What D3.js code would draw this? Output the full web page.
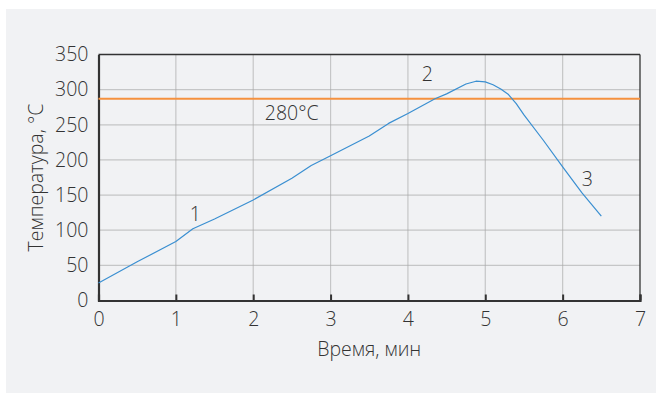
<!DOCTYPE html>
<html>
<head>
<meta charset="utf-8">
<script src="https://cdn.jsdelivr.net/npm/d3@7"></script>
<style>
  body { margin: 0; background: #fff; }
  svg { display: block; font-family: "Open Sans", sans-serif; font-weight: 300; }
</style>
</head>
<body>
<svg id="chart"></svg>
<script>
// Temperature curve (time in min, temperature in °C)
const times = [0, 0.5, 1, 1.22, 1.5, 2, 2.5, 2.75, 3, 3.5, 3.75, 4, 4.35, 4.5, 4.75, 4.88, 5, 5.1, 5.2, 5.3, 5.4, 5.5, 5.75, 6, 6.25, 6.5];
const temps = [25, 55, 84, 102, 116, 143, 174, 192, 206, 234, 252, 266, 287, 294, 308, 312, 311, 307, 301, 293, 280, 264, 228, 190, 153, 120];
const limitTemp = 287;
const limitLabel = "280°C";
const xTicks = [0, 1, 2, 3, 4, 5, 6, 7];
const yTicks = [0, 50, 100, 150, 200, 250, 300, 350];
const stageLabels = ["1", "2", "3"];
const stageAt = [[1.25, 113], [4.25, 312], [6.32, 163]];

const W = 657, H = 393;
const margin = { top: 54.5, right: 17, bottom: 92.5, left: 98.5 };
const width = W - margin.left - margin.right;
const height = H - margin.top - margin.bottom;
const fs = 19.5;
const textColor = "#333";

const root = d3.select("#chart").attr("width", W).attr("height", H);

// panel background
root.append("rect")
  .attr("x", 6).attr("y", 9)
  .attr("width", 650).attr("height", 384)
  .attr("fill", "#f1f2f4");

const svg = root.append("g")
  .attr("transform", "translate(" + margin.left + "," + margin.top + ")");

const x = d3.scaleLinear().domain([0, 7]).range([0, width]);
const y = d3.scaleLinear().domain([0, 350]).range([height, 0]);

// grid
svg.append("g")
  .selectAll("line")
  .data(xTicks.slice(1, -1))
  .enter()
  .append("line")
  .attr("x1", d => x(d)).attr("x2", d => x(d))
  .attr("y1", 0).attr("y2", height)
  .attr("stroke", "#a8a8a8").attr("stroke-opacity", 0.6).attr("stroke-width", 1.2);
svg.append("g")
  .selectAll("line")
  .data(yTicks.slice(1, -1))
  .enter()
  .append("line")
  .attr("x1", 0).attr("x2", width)
  .attr("y1", d => y(d)).attr("y2", d => y(d))
  .attr("stroke", "#a8a8a8").attr("stroke-opacity", 0.6).attr("stroke-width", 1.2);

// frame: top and right thin, left and bottom heavier
svg.append("line").attr("x1", 0).attr("x2", width).attr("y1", 0).attr("y2", 0)
  .attr("stroke", "#333").attr("stroke-width", 1.3);
svg.append("line").attr("x1", width).attr("x2", width).attr("y1", 0).attr("y2", height)
  .attr("stroke", "#333").attr("stroke-width", 1.3);

const xAxis = d3.axisBottom(x).tickValues(xTicks).tickSize(-6).tickPadding(12).tickFormat(d3.format("d"));
const yAxis = d3.axisLeft(y).tickValues(yTicks).tickSize(0).tickPadding(10).tickFormat(d3.format("d"));

const gx = svg.append("g")
  .attr("transform", "translate(0," + height + ")")
  .call(xAxis);
const gy = svg.append("g").call(yAxis);

[gx, gy].forEach(function (g) {
  g.select(".domain").attr("stroke", "#333").attr("stroke-width", 2.2);
  g.selectAll(".tick line").attr("stroke", "#333").attr("stroke-width", 2);
  g.selectAll(".tick text")
    .attr("font-size", fs)
    .attr("font-family", "Open Sans, sans-serif")
    .attr("fill", textColor);
});

// limit line
svg.append("line")
  .attr("x1", 0).attr("x2", width)
  .attr("y1", y(limitTemp)).attr("y2", y(limitTemp))
  .attr("stroke", "#f5913e").attr("stroke-width", 2);

svg.append("text")
  .attr("x", x(2.15)).attr("y", y(limitTemp) + 21)
  .attr("font-size", fs).attr("fill", textColor)
  .text(limitLabel);

// curve
const line = d3.line()
  .x((d, i) => x(times[i]))
  .y(d => y(d));

svg.append("path")
  .datum(temps)
  .attr("fill", "none")
  .attr("stroke", "#3a8fd1")
  .attr("stroke-width", 1.2)
  .attr("stroke-linejoin", "round")
  .attr("d", line);

// stage labels
svg.selectAll(".stage")
  .data(stageLabels)
  .enter()
  .append("text")
  .attr("class", "stage")
  .attr("x", (d, i) => x(stageAt[i][0]))
  .attr("y", (d, i) => y(stageAt[i][1]))
  .attr("text-anchor", "middle")
  .attr("font-size", fs).attr("fill", textColor)
  .text(d => d);

// axis titles
svg.append("text")
  .attr("x", width / 2).attr("y", height + 55)
  .attr("text-anchor", "middle")
  .attr("font-size", fs).attr("fill", textColor)
  .text("Время, мин");

svg.append("text")
  .attr("transform", "translate(" + (-56) + "," + (height / 2) + ") rotate(-90)")
  .attr("text-anchor", "middle")
  .attr("font-size", fs).attr("fill", textColor)
  .text("Температура, °С");
</script>
</body>
</html>
